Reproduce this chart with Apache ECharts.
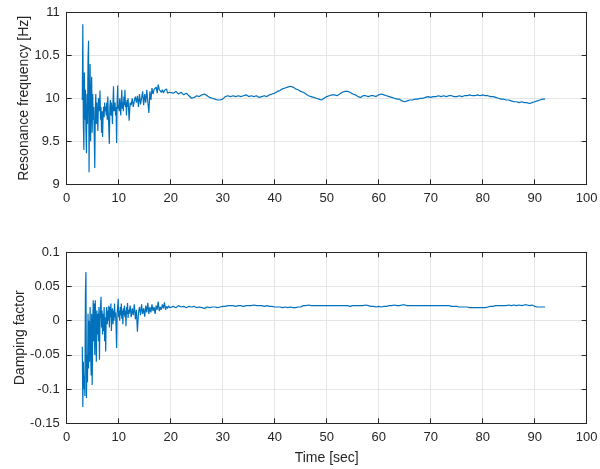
<!DOCTYPE html>
<html><head><meta charset="utf-8">
<script src="https://cdn.jsdelivr.net/npm/echarts@6/dist/echarts.min.js"></script>
<style>html,body{margin:0;padding:0;background:#fff}#c{width:600px;height:469px}</style>
</head><body><div id="c"></div>
<script>
// Sample time grid segments: [start, step, count]
const timeSegments = [[3.0, 0.1, 90], [12.0, 0.2, 40], [20.0, 0.5, 145]];
const xTicks = [0,10,20,30,40,50,60,70,80,90,100];
const freqTicks = [9, 9.5, 10, 10.5, 11];
const dampTicks = [-0.15, -0.1, -0.05, 0, 0.05, 0.1];

const freqA = [
9.98,10.86,9.70,9.40,10.30,9.75,10.10,9.60,9.36,10.05,
9.70,10.45,10.67,9.14,9.90,10.40,9.50,10.00,10.25,9.60,
10.05,9.75,9.90,9.55,9.19,9.85,10.05,9.70,9.95,9.80,
9.62,10.00,9.85,9.90,10.09,9.75,9.90,9.60,9.85,9.55,
9.80,9.90,9.78,9.95,9.85,9.90,9.80,9.95,9.75,10.02,
9.82,9.65,9.47,9.90,9.98,9.80,9.95,9.85,9.70,9.95,
10.14,9.85,9.90,9.95,9.80,9.90,9.48,9.95,10.15,9.88,
9.92,9.85,10.00,9.90,9.80,9.97,10.10,9.88,9.95,9.85,
10.02,9.92,10.10,9.90,9.95,9.80,9.98,9.90,10.00,9.88];
const freqB = [
9.74,9.95,9.92,10.00,9.90,9.97,10.02,9.95,10.03,9.90,
10.05,9.93,10.00,10.08,9.92,10.05,9.95,10.10,9.96,9.83,
10.08,9.98,10.12,10.05,10.10,10.08,10.13,10.06,10.16,10.10,
10.12,10.07,10.10,10.06,10.09,10.07,10.11,10.06,10.08,10.07];
const freqC = [
10.07,10.06,10.08,10.05,10.07,10.04,10.06,10.03,10.00,10.01,
10.03,10.02,10.04,10.05,10.03,10.01,10.00,9.99,9.98,9.98,
9.99,10.02,10.03,10.02,10.03,10.02,10.03,10.02,10.03,10.04,
10.02,10.03,10.02,10.03,10.01,10.02,10.03,10.02,10.04,10.05,
10.06,10.08,10.09,10.11,10.12,10.13,10.14,10.13,10.11,10.10,
10.08,10.07,10.05,10.03,10.02,10.01,10.00,9.99,9.98,10.00,
10.02,10.03,10.04,10.04,10.03,10.05,10.07,10.08,10.08,10.07,
10.05,10.04,10.02,10.01,10.03,10.03,10.02,10.03,10.03,10.02,
10.04,10.05,10.04,10.03,10.02,10.01,10.00,9.99,9.99,9.97,
9.96,9.97,9.98,9.98,9.99,9.99,10.00,10.00,10.01,10.02,
10.01,10.02,10.02,10.03,10.02,10.03,10.02,10.03,10.03,10.02,
10.02,10.03,10.02,10.03,10.03,10.04,10.03,10.03,10.04,10.03,
10.04,10.03,10.03,10.02,10.02,10.01,10.00,9.99,9.99,9.98,
9.98,9.97,9.96,9.96,9.95,9.96,9.95,9.95,9.94,9.95,
9.96,9.97,9.98,9.99,9.99];

const dampA = [
-0.038,-0.126,-0.060,-0.100,-0.080,-0.110,0.040,0.071,-0.113,-0.050,
-0.090,0.010,-0.070,0.000,-0.060,0.020,-0.040,-0.080,0.010,-0.094,
-0.020,0.030,-0.030,0.025,-0.050,0.030,-0.010,-0.060,0.015,-0.020,
0.010,-0.030,0.020,-0.057,0.000,0.020,0.035,-0.010,0.015,-0.020,
0.010,-0.015,0.020,-0.030,0.005,-0.045,0.010,0.020,-0.005,0.015,
0.000,0.022,-0.010,0.020,0.005,0.025,-0.015,0.010,0.018,-0.005,
0.015,0.000,0.025,0.005,0.012,-0.010,-0.040,0.010,0.020,0.032,
0.005,0.015,0.000,0.020,0.008,0.025,0.003,0.015,-0.005,0.018,
0.008,0.022,0.005,0.015,-0.008,0.020,0.010,0.026,0.004,0.016];
const dampB = [
0.010,0.022,0.005,0.018,0.008,0.024,0.002,0.016,-0.016,0.012,
0.020,0.008,0.024,0.010,0.018,0.006,0.022,0.012,0.026,0.010,
0.020,0.012,0.024,0.014,0.020,0.010,0.022,0.016,0.028,0.014,
0.020,0.016,0.024,0.018,0.027,0.016,0.021,0.018,0.022,0.019];
const dampC = [
0.020,0.021,0.019,0.022,0.020,0.021,0.019,0.021,0.020,0.021,
0.019,0.020,0.019,0.018,0.020,0.019,0.020,0.020,0.019,0.020,
0.021,0.021,0.022,0.022,0.022,0.021,0.022,0.022,0.021,0.022,
0.022,0.022,0.023,0.022,0.022,0.022,0.021,0.022,0.021,0.021,
0.020,0.020,0.020,0.019,0.020,0.019,0.020,0.019,0.019,0.020,
0.020,0.022,0.022,0.023,0.022,0.022,0.022,0.022,0.022,0.022,
0.022,0.022,0.022,0.022,0.022,0.022,0.022,0.022,0.022,0.021,
0.022,0.022,0.022,0.022,0.022,0.023,0.022,0.021,0.021,0.020,
0.021,0.020,0.021,0.021,0.022,0.022,0.023,0.022,0.022,0.023,
0.023,0.022,0.022,0.022,0.022,0.022,0.022,0.022,0.022,0.022,
0.022,0.022,0.022,0.022,0.022,0.022,0.022,0.022,0.021,0.021,
0.021,0.020,0.020,0.020,0.020,0.019,0.019,0.019,0.019,0.019,
0.019,0.019,0.020,0.021,0.021,0.022,0.022,0.022,0.022,0.022,
0.023,0.022,0.023,0.022,0.023,0.022,0.023,0.023,0.022,0.023,
0.021,0.020,0.020,0.020,0.020];

const time = [];
timeSegments.forEach(([s, d, n]) => { for (let i = 0; i < n; i++) time.push(+(s + i * d).toFixed(2)); });
const freq = freqA.concat(freqB, freqC);
const damp = dampA.concat(dampB, dampC);
const freqData = time.map((t, i) => [t, freq[i]]);
const dampData = time.map((t, i) => [t, damp[i]]);

const FONT = "'Liberation Sans', Arial, sans-serif";
const axisCol = '#262626';
const gridCol = '#e5e5e5';
const lab = {color: axisCol, fontFamily: FONT, fontSize: 13};

function xAx(gi, pos, show) {
  return {
    type: 'value', gridIndex: gi, position: pos, min: 0, max: 100, interval: 10,
    axisLine: {show: true, onZero: false, lineStyle: {color: axisCol, width: 1}},
    axisTick: {show: true, inside: true, length: 5, lineStyle: {color: axisCol}},
    axisLabel: show ? Object.assign({margin: 8}, lab) : {show: false},
    splitLine: {show: show, lineStyle: {color: gridCol, width: 1}}
  };
}
function yAx(gi, pos, show, min, max, interval, name, gap, fmt) {
  return {
    type: 'value', gridIndex: gi, position: pos, min: min, max: max, interval: interval,
    name: show ? name : '', nameLocation: 'middle', nameGap: gap, nameRotate: 90,
    nameMoveOverlap: false,
    nameTextStyle: {color: axisCol, fontFamily: FONT, fontSize: 14},
    axisLine: {show: true, onZero: false, lineStyle: {color: axisCol, width: 1}},
    axisTick: {show: true, inside: true, length: 5, lineStyle: {color: axisCol}},
    axisLabel: show ? Object.assign({margin: 7, formatter: fmt}, lab) : {show: false},
    splitLine: {show: show, lineStyle: {color: gridCol, width: 1}}
  };
}

const x0 = xAx(0, 'bottom', true);
const x2 = xAx(1, 'bottom', true);
x2.name = 'Time [sec]'; x2.nameLocation = 'middle'; x2.nameGap = 28;
x2.nameMoveOverlap = false;
x2.nameTextStyle = {color: axisCol, fontFamily: FONT, fontSize: 14};

const chart = echarts.init(document.getElementById('c'), null, {renderer: 'canvas'});
chart.setOption({
  animation: false,
  backgroundColor: '#ffffff',
  grid: [
    {left: 66.7, top: 12.3, width: 520, height: 172, containLabel: false, outerBoundsMode: 'none'},
    {left: 66.7, top: 252.3, width: 520, height: 171, containLabel: false, outerBoundsMode: 'none'}
  ],
  xAxis: [x0, xAx(0, 'top', false), x2, xAx(1, 'top', false)],
  yAxis: [
    yAx(0, 'left', true, freqTicks[0], freqTicks[freqTicks.length-1], 0.5, 'Resonance frequency [Hz]', 36, v => String(+v.toFixed(2))),
    yAx(0, 'right', false, freqTicks[0], freqTicks[freqTicks.length-1], 0.5),
    yAx(1, 'left', true, dampTicks[0], dampTicks[dampTicks.length-1], 0.05, 'Damping factor', 40, v => String(+v.toFixed(2))),
    yAx(1, 'right', false, dampTicks[0], dampTicks[dampTicks.length-1], 0.05)
  ],
  series: [
    {type: 'line', xAxisIndex: 0, yAxisIndex: 0, data: freqData, showSymbol: false, symbol: 'none',
     lineStyle: {color: '#0072BD', width: 1.2}, z: 5},
    {type: 'line', xAxisIndex: 2, yAxisIndex: 2, data: dampData, showSymbol: false, symbol: 'none',
     lineStyle: {color: '#0072BD', width: 1.2}, z: 5}
  ]
});
</script></body></html>
